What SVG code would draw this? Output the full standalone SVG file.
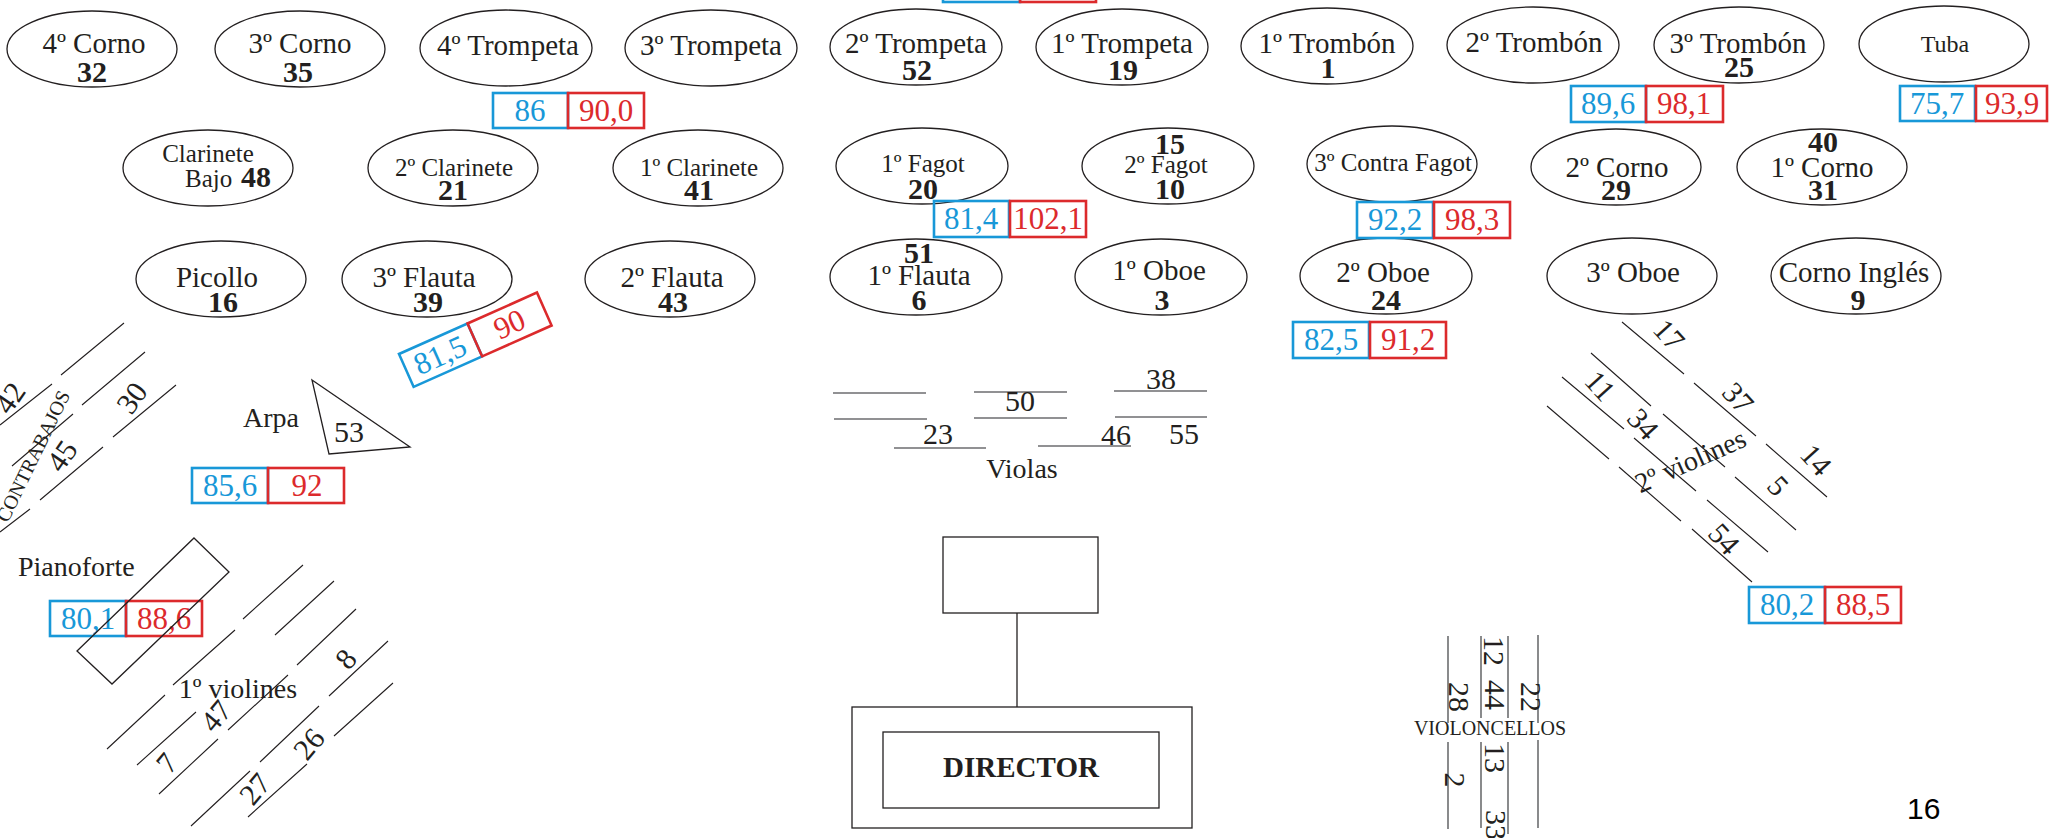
<svg xmlns="http://www.w3.org/2000/svg" width="2049" height="838" viewBox="0 0 2049 838">
<style>
.e{fill:none;stroke:#231f20;stroke-width:1.3}
.t{font-family:"Liberation Serif",serif;font-size:29px;fill:#231f20;text-anchor:middle}
.s{font-size:25px}
.n{font-family:"Liberation Serif",serif;font-size:30px;font-weight:bold;fill:#231f20;text-anchor:middle}
.m{font-family:"Liberation Serif",serif;font-size:30px;fill:#231f20;text-anchor:middle}
.bb{fill:none;stroke:#1898d8;stroke-width:2.6}
.rb{fill:none;stroke:#dc2a2c;stroke-width:2.6}
.bt{font-family:"Liberation Serif",serif;font-size:31px;fill:#1898d8;text-anchor:middle}
.rt{font-family:"Liberation Serif",serif;font-size:31px;fill:#dc2a2c;text-anchor:middle}
.ln{stroke:#231f20;stroke-width:1.1;fill:none}
.gl{stroke:#6d6e70;stroke-width:1.6;fill:none}
.rc{fill:none;stroke:#231f20;stroke-width:1.3}
</style>
<rect width="2049" height="838" fill="#ffffff"/>

<!-- Row 1 -->
<g id="n_4corno"><ellipse class="e" cx="92" cy="49" rx="85" ry="38"/><text class="t" x="94" y="53">4º Corno</text><text class="n" x="92" y="82">32</text></g>
<g id="n_3corno"><ellipse class="e" cx="300" cy="49" rx="85" ry="38"/><text class="t" x="300" y="53">3º Corno</text><text class="n" x="298" y="82">35</text></g>
<g id="n_4trompeta"><ellipse class="e" cx="506" cy="48" rx="86" ry="38"/><text class="t" x="508" y="55">4º Trompeta</text></g>
<g id="n_3trompeta"><ellipse class="e" cx="711" cy="48" rx="86" ry="38"/><text class="t" x="711" y="55">3º Trompeta</text></g>
<g id="n_2trompeta"><ellipse class="e" cx="916" cy="47" rx="86" ry="38"/><text class="t" x="916" y="53">2º Trompeta</text><text class="n" x="917" y="80">52</text></g>
<g id="n_1trompeta"><ellipse class="e" cx="1122" cy="47" rx="86" ry="38"/><text class="t" x="1122" y="53">1º Trompeta</text><text class="n" x="1123" y="80">19</text></g>
<g id="n_1trombon"><ellipse class="e" cx="1327" cy="46" rx="86" ry="38"/><text class="t" x="1327" y="53">1º Trombón</text><text class="n" x="1328" y="78">1</text></g>
<g id="n_2trombon"><ellipse class="e" cx="1533" cy="45" rx="86" ry="38"/><text class="t" x="1534" y="52">2º Trombón</text></g>
<g id="n_3trombon"><ellipse class="e" cx="1739" cy="45" rx="85" ry="38"/><text class="t" x="1738" y="53">3º Trombón</text><text class="n" x="1739" y="77">25</text></g>
<g id="n_tuba"><ellipse class="e" cx="1944" cy="44" rx="85" ry="38"/><text class="t" x="1945" y="52" style="font-size:24px">Tuba</text></g>

<!-- Row 2 -->
<g id="n_clarinetebajo"><ellipse class="e" cx="208" cy="168" rx="85" ry="38"/><text class="t s" x="208" y="162">Clarinete</text><text class="t s" x="185" y="187" style="text-anchor:start">Bajo</text><text class="n" x="241" y="187" style="text-anchor:start">48</text></g>
<g id="n_2clarinete"><ellipse class="e" cx="453" cy="168" rx="85" ry="38"/><text class="t s" x="454" y="176">2º Clarinete</text><text class="n" x="453" y="200">21</text></g>
<g id="n_1clarinete"><ellipse class="e" cx="698" cy="168" rx="85" ry="38"/><text class="t s" x="699" y="176">1º Clarinete</text><text class="n" x="699" y="200">41</text></g>
<g id="n_1fagot"><ellipse class="e" cx="922" cy="166" rx="86" ry="38"/><text class="t s" x="923" y="172">1º Fagot</text><text class="n" x="923" y="199">20</text></g>
<g id="n_2fagot"><ellipse class="e" cx="1168" cy="166" rx="86" ry="38"/><text class="n" x="1170" y="154">15</text><text class="t s" x="1166" y="173">2º Fagot</text><text class="n" x="1170" y="199">10</text></g>
<g id="n_3contrafagot"><ellipse class="e" cx="1392" cy="164" rx="85" ry="38"/><text class="t s" x="1393" y="171">3º Contra Fagot</text></g>
<g id="n_2corno"><ellipse class="e" cx="1616" cy="167" rx="85" ry="38"/><text class="t" x="1617" y="177">2º Corno</text><text class="n" x="1616" y="200">29</text></g>
<g id="n_1corno"><ellipse class="e" cx="1822" cy="167" rx="85" ry="38"/><text class="n" x="1823" y="152">40</text><text class="t" x="1822" y="177">1º Corno</text><text class="n" x="1823" y="200">31</text></g>

<!-- Row 3 -->
<g id="n_picollo"><ellipse class="e" cx="221" cy="279" rx="85" ry="38"/><text class="t" x="217" y="287">Picollo</text><text class="n" x="223" y="312">16</text></g>
<g id="n_3flauta"><ellipse class="e" cx="427" cy="279" rx="85" ry="38"/><text class="t" x="424" y="287">3º Flauta</text><text class="n" x="428" y="312">39</text></g>
<g id="n_2flauta"><ellipse class="e" cx="670" cy="279" rx="85" ry="38"/><text class="t" x="672" y="287">2º Flauta</text><text class="n" x="673" y="312">43</text></g>
<g id="n_1flauta"><ellipse class="e" cx="916" cy="277" rx="86" ry="38"/><text class="n" x="919" y="263">51</text><text class="t" x="919" y="285">1º Flauta</text><text class="n" x="919" y="310">6</text></g>
<g id="n_1oboe"><ellipse class="e" cx="1161" cy="277" rx="86" ry="38"/><text class="t" x="1159" y="280">1º Oboe</text><text class="n" x="1162" y="310">3</text></g>
<g id="n_2oboe"><ellipse class="e" cx="1386" cy="276" rx="86" ry="38"/><text class="t" x="1383" y="282">2º Oboe</text><text class="n" x="1386" y="310">24</text></g>
<g id="n_3oboe"><ellipse class="e" cx="1632" cy="276" rx="85" ry="38"/><text class="t" x="1633" y="282">3º Oboe</text></g>
<g id="n_cornoingles"><ellipse class="e" cx="1856" cy="276" rx="85" ry="38"/><text class="t" x="1854" y="282">Corno Inglés</text><text class="n" x="1858" y="310">9</text></g>

<!-- Value boxes -->
<g id="v_top"><rect class="bb" x="943" y="-40" width="77" height="42"/><rect class="rb" x="1020" y="-40" width="76" height="42"/></g>
<g id="v_4trompeta"><rect class="bb" x="493" y="93" width="75" height="35"/><rect class="rb" x="568" y="93" width="76" height="35"/><text class="bt" x="530" y="121">86</text><text class="rt" x="606" y="121">90,0</text></g>
<g id="v_1fagot"><rect class="bb" x="934" y="201" width="75" height="36"/><rect class="rb" x="1010" y="201" width="76" height="36"/><text class="bt" x="971" y="229">81,4</text><text class="rt" x="1048" y="229">102,1</text></g>
<g id="v_3trombon"><rect class="bb" x="1571" y="86" width="75" height="36"/><rect class="rb" x="1646" y="86" width="77" height="36"/><text class="bt" x="1608" y="114">89,6</text><text class="rt" x="1684" y="114">98,1</text></g>
<g id="v_tuba"><rect class="bb" x="1900" y="86" width="75" height="35"/><rect class="rb" x="1976" y="86" width="71" height="35"/><text class="bt" x="1937" y="114">75,7</text><text class="rt" x="2012" y="114">93,9</text></g>
<g id="v_3contrafagot"><rect class="bb" x="1357" y="202" width="76" height="36"/><rect class="rb" x="1434" y="202" width="76" height="36"/><text class="bt" x="1395" y="230">92,2</text><text class="rt" x="1472" y="230">98,3</text></g>
<g id="v_2oboe"><rect class="bb" x="1293" y="322" width="76" height="36"/><rect class="rb" x="1370" y="322" width="76" height="36"/><text class="bt" x="1331" y="350">82,5</text><text class="rt" x="1408" y="350">91,2</text></g>
<g id="v_3flauta" transform="translate(399,354) rotate(-24)"><rect class="bb" x="0" y="0" width="75" height="36"/><rect class="rb" x="75" y="0" width="76" height="36"/><text class="bt" x="37" y="28">81,5</text><text class="rt" x="113" y="28">90</text></g>
<g id="v_arpa"><rect class="bb" x="192" y="468" width="76" height="35"/><rect class="rb" x="268" y="468" width="76" height="35"/><text class="bt" x="230" y="496">85,6</text><text class="rt" x="307" y="496">92</text></g>
<g id="v_piano"><rect class="bb" x="50" y="601" width="76" height="35"/><rect class="rb" x="126" y="601" width="76" height="35"/><text class="bt" x="88" y="629">80,1</text><text class="rt" x="164" y="629">88,6</text></g>
<g id="v_2violines"><rect class="bb" x="1749" y="587" width="76" height="36"/><rect class="rb" x="1825" y="587" width="76" height="36"/><text class="bt" x="1787" y="615">80,2</text><text class="rt" x="1863" y="615">88,5</text></g>

<!-- Contrabajos -->
<g id="n_contrabajos">
<path class="ln" d="M61,375L124,323M0,425L52,384M82,405L145,352M12,466L73,414M113,437L176,385M40,500L103,447M0,532L30,509"/>
<text class="m" transform="translate(10,398) rotate(-55)" y="10">42</text>
<text class="m" transform="translate(132,398) rotate(-55)" y="10">30</text>
<text class="m" transform="translate(62,456) rotate(-55)" y="10">45</text>
<text class="t" transform="translate(33,456) rotate(-64)" y="7" style="font-size:20px">CONTRABAJOS</text>
</g>

<!-- Arpa -->
<g id="n_arpa">
<polygon class="rc" points="312,380 410,447 329,454"/>
<text class="t" x="243" y="427" style="text-anchor:start;font-size:28px">Arpa</text>
<text class="m" x="349" y="442">53</text>
</g>

<!-- Pianoforte -->
<g id="n_piano">
<polygon class="rc" points="194,538 229,572 112,684 77,651"/>
<text class="t" x="18" y="576" style="text-anchor:start;font-size:28px">Pianoforte</text>
</g>

<!-- 1º violines -->
<g id="n_1violines">
<path class="ln" d="M243,619L303,565M275,635L334,581M173,685L235,630M297,665L356,609M329,696L388,641M107,749L165,695M137,765L196,712M228,730L288,675M159,794L218,739M260,762L319,706M334,736L393,683M191,826L250,771M248,817L307,764"/>
<text class="t" x="238" y="698" style="font-size:28px">1º violines</text>
<text class="m" transform="translate(346,659) rotate(-50)" y="10">8</text>
<text class="m" transform="translate(216,716) rotate(-50)" y="10">47</text>
<text class="m" transform="translate(167,763) rotate(-50)" y="10">7</text>
<text class="m" transform="translate(309,744) rotate(-50)" y="10">26</text>
<text class="m" transform="translate(255,789) rotate(-50)" y="10">27</text>
</g>

<!-- Violas -->
<g id="n_violas">
<path class="gl" d="M833,393H926M834,419H927M894,448H986M974,392H1067M974,418H1067M1038,446H1131M1114,391H1207M1115,417H1207"/>
<text class="m" x="938" y="444">23</text>
<text class="m" x="1020" y="411">50</text>
<text class="m" x="1161" y="389">38</text>
<text class="m" x="1116" y="445">46</text>
<text class="m" x="1184" y="444">55</text>
<text class="t" x="1022" y="478" style="font-size:28px">Violas</text>
</g>

<!-- 2º violines -->
<g id="n_2violines">
<path class="ln" d="M1622,322L1684,374M1591,353L1651,406M1562,377L1624,429M1694,383L1756,436M1547,406L1609,459M1663,414L1725,467M1634,438L1696,491M1766,444L1827,497M1619,467L1681,521M1735,477L1796,530M1707,500L1768,552M1692,529L1752,582"/>
<text class="t" transform="translate(1691,462) rotate(-24)" y="8" style="font-size:28px">2º violines</text>
<text class="m" transform="translate(1669,335) rotate(48)" y="10">17</text>
<text class="m" transform="translate(1600,386) rotate(48)" y="10">11</text>
<text class="m" transform="translate(1738,398) rotate(48)" y="10">37</text>
<text class="m" transform="translate(1643,424) rotate(48)" y="10">34</text>
<text class="m" transform="translate(1816,460) rotate(48)" y="10">14</text>
<text class="m" transform="translate(1778,486) rotate(48)" y="10">5</text>
<text class="m" transform="translate(1724,539) rotate(48)" y="10">54</text>
</g>

<!-- Violoncellos -->
<g id="n_violoncellos">
<path class="gl" d="M1448,636V723M1448,742V829M1481,636V718M1481,742V828M1508,636V718M1508,742V834M1538,635V723M1538,740V828"/>
<text class="m" transform="translate(1494,651) rotate(90)" y="10">12</text>
<text class="m" transform="translate(1495,695) rotate(90)" y="10">44</text>
<text class="m" transform="translate(1459,697) rotate(90)" y="10">28</text>
<text class="m" transform="translate(1531,697) rotate(90)" y="10">22</text>
<text class="m" transform="translate(1495,758) rotate(90)" y="10">13</text>
<text class="m" transform="translate(1455,780) rotate(90)" y="10">2</text>
<text class="m" transform="translate(1496,825) rotate(90)" y="10">33</text>
<text class="t" x="1490" y="735" style="font-size:20px">VIOLONCELLOS</text>
</g>

<!-- Director -->
<g id="n_podium"><rect class="rc" x="943" y="537" width="155" height="76"/></g>
<g id="n_director"><rect class="rc" x="852" y="707" width="340" height="121"/><rect class="rc" x="883" y="732" width="276" height="76"/><text class="n" x="1021" y="777" style="font-size:29px">DIRECTOR</text></g>

<g id="connectors"><line class="rc" x1="1017" y1="613" x2="1017" y2="707"/></g>

<text x="1907" y="819" style="font-family:'Liberation Sans',Arial,sans-serif;font-size:30px;fill:#000">16</text>
</svg>
